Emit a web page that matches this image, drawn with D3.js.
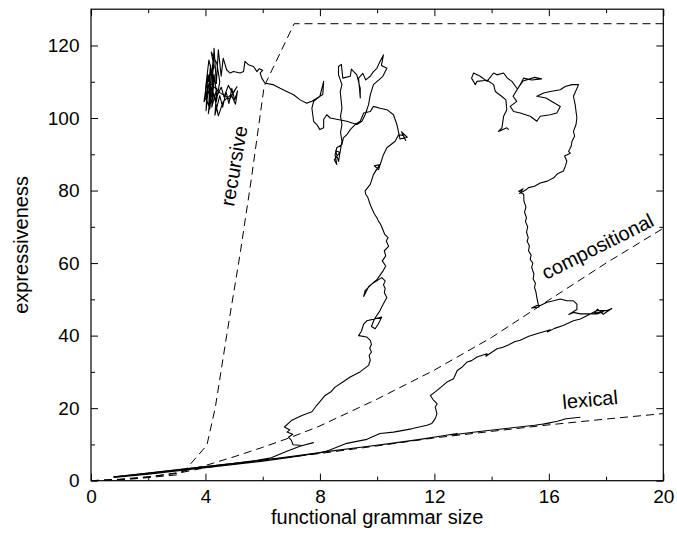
<!DOCTYPE html>
<html><head><meta charset="utf-8">
<script src="https://cdn.jsdelivr.net/npm/d3@7"></script>
<style>body{margin:0;background:#fff}svg{display:block}</style>
</head><body><svg id="c" width="677" height="538"></svg>
<script>
const xTicks = [0,4,8,12,16,20];
const xMinor = [2,6,10,14,18];
const yTicks = [0,20,40,60,80,100,120];
const yMinor = [10,30,50,70,90,110];
const xTitle = "functional grammar size";
const yTitle = "expressiveness";

const lexicalCurve = [[0,0],[1,0.4],[2,1.1],[3,2.0],[4,3.6],[6,5.6],[8,7.5],[10,9.6],[12,11.8],[14,13.6],[16,15.4],[18,17.0],[20,18.5]];
const compositionalCurve = [[0,0],[1,0.3],[2,1.0],[3,2.2],[4,4.2],[5,6.6],[6,9.2],[7,12.0],[8,15.1],[10,22.5],[12,30.5],[14,39.5],[16,49.8],[18,60.0],[20,69.6]];
const recursiveCurve = [[0,0],[1.5,0.5],[3.0,1.6],[3.3,3.0],[4.05,9.8],[4.34,20],[4.74,40],[5.2,62],[5.6,83],[6.05,108.7],[7.1,126],[20,126]];

const runLexical = [[0.77,1.0],[1.5,1.6],[2.5,2.5],[3.5,3.4],[4.5,4.3],[5.5,5.2],[6.5,6.2],[7.5,7.2],[8.5,8.3],[9.5,9.3],[10.5,10.3],[11.5,11.4],[12.3,12.4],[12.8,13.0],[12.6,12.6],[13.5,13.5],[14.5,14.4],[15.5,15.3],[16.05,15.9],[15.8,15.6],[16.3,16.4],[16.6,17.1],[17.1,17.5]];

const runRecursive = [[0.8,1.1],[2,2.1],[3,3.0],[4,3.9],[5,4.8],[5.8,5.6],[6.3,6.3],[6.8,8.0],[7.3,9.5],[7.77,10.5],[7.4,9.7],[7.06,9.9],[7.0,11.2],[6.9,12.0],[7.05,12.8],[6.85,13.4],[6.95,14.0],[6.76,14.8],[7.02,16.7],[7.37,18.0],[7.72,19.0],[7.85,20.4],[7.95,21.3],[8.18,23.5],[8.4,24.6],[8.53,25.8],[8.8,27.2],[9.06,28.6],[9.4,30.0],[9.70,31.8],[9.76,33.2],[9.72,34.5],[9.8,35.5],[9.74,36.5],[9.8,37.6],[9.76,38.7],[9.64,39.6],[9.35,40.0],[9.45,41.2],[9.53,43.2],[9.64,44.1],[10.16,45.1],[10.04,43.2],[9.93,41.9],[9.8,42.5],[9.9,44.5],[10.1,46.9],[10.2,48.5],[10.34,50.5],[10.25,51.8],[10.28,53],[10.22,54],[10.28,55.1],[10.16,56.0],[9.81,54.2],[9.58,52.4],[9.53,50.8],[9.7,53.5],[10.0,55.5],[10.22,58],[10.3,59.2],[10.18,60.6],[10.3,62],[10.25,63.4],[10.4,64.6],[10.32,66.1],[10.38,67],[10.26,68.0],[10.2,69.2],[10.12,70.7],[10.05,71.5],[9.99,72.5],[9.9,73.6],[9.8,75.3],[9.74,76.5],[9.68,78.0],[9.6,79.0],[9.58,79.9],[9.76,81.7],[9.87,84.4],[10.03,86.4],[9.95,85.5],[10.1,87.2],[9.9,86.8],[10.05,85.8],[10.22,89.9],[10.34,91.8],[10.63,93.6],[10.75,95.4],[10.91,95.2],[11.0,93.8],[10.85,96.2],[11.05,94.7],[10.8,94.2],[10.69,98.2],[10.57,100.9],[10.34,102.3],[10.1,102.7],[9.87,103.2],[9.76,101.8],[9.53,101.4],[9.41,99.1],[9.23,98.2],[9.06,96.8],[8.94,95.4],[8.82,94.5],[8.77,92.7],[8.59,91.8],[8.53,89.9],[8.59,87.2],[8.5,88.5],[8.7,90.5],[8.55,91],[8.65,88],[8.77,93.6],[8.72,96],[8.77,98.2],[8.72,100.5],[8.77,102.7],[8.71,107.3],[8.77,109.2],[8.65,111.9],[8.65,114.2],[8.75,114.8],[8.8,111],[9.06,111.5],[9.1,113.5],[9.29,111.9],[9.41,108.2],[9.41,105.5],[9.35,111],[9.5,112.3],[9.6,110.5],[9.76,111.5],[9.87,112.8],[9.99,113.7],[10.1,115.6],[10.22,117.4],[10.15,114.5],[10.34,113.7],[10.2,111.5],[9.87,109.2],[9.76,106.4],[9.7,103.7],[9.58,100.9],[9.47,99.1],[9.29,98.2],[8.94,99.1],[8.36,100.0],[8.24,100.9],[8.13,99.6],[8.13,97.3],[8.0,96.8],[7.89,98.2],[7.78,99.1],[7.72,102.7],[7.78,104.6],[8.0,106.0],[8.07,108.2],[8.13,110.1],[8.1,106.5],[7.72,104.6],[7.54,104.1],[7.31,105.0],[7.08,106.4],[6.84,107.3],[6.61,108.2],[6.37,109.2],[6.08,109.6],[5.97,111.0],[5.91,112.4],[6.0,113.2],[5.88,113.6],[5.80,112.8],[5.68,114.2],[5.50,114.7],[5.38,115.6],[5.33,112.8],[5.21,112.4],[4.98,112.8],[4.86,112.4],[4.74,113.3],[4.62,116.5],[4.55,111.5],[4.45,118.8],[4.38,109.5],[4.3,119.2],[4.22,106],[4.28,117],[4.12,104],[4.18,114.5],[4.02,102],[4.08,112],[3.95,104.5],[4.2,108.5],[4.1,101.2],[4.3,110.5],[4.22,103],[4.4,108.2],[4.33,100.8],[4.5,106.2],[4.6,103],[4.72,107.2],[4.82,104],[4.92,108.2],[5.02,105],[5.12,107.5],[5.05,103.8],[4.9,106.5],[4.62,104.5],[4.45,100.6],[4.3,106.5],[4.18,104],[4.14,111],[4.3,114],[4.2,118.2],[4.4,115],[4.5,110],[4.38,104.5],[4.25,107.5],[4.1,109],[4.0,106],[4.15,102.5],[4.3,112],[4.4,106],[4.55,108.5],[4.65,105.8],[4.8,109],[4.95,106.8],[5.1,108.6],[4.85,105.2],[4.5,107],[4.05,110.5],[4.2,113],[4.0,108],[4.12,116],[4.25,111.5]];

const runCompositional = [[0.8,0.9],[2,1.8],[3,2.7],[4,3.6],[5,4.5],[6,5.4],[7,6.5],[8,7.7],[8.3,8.3],[8.94,10.3],[9.64,11.4],[10.1,13.0],[10.57,13.4],[11.2,14.3],[11.74,15.3],[11.91,15.8],[12.03,17.1],[12.09,18.5],[12.03,20.3],[12.1,21.2],[11.97,22.2],[11.86,23.5],[12.03,24.5],[12.2,25.6],[12.44,27.2],[12.67,28.1],[12.8,30.4],[12.95,31.2],[13.14,32.7],[13.3,33.1],[13.49,34.1],[13.84,35.0],[13.8,34.3],[14.19,36.4],[14.4,36.8],[14.6,37.5],[14.8,38.3],[15.0,38.7],[15.3,39.8],[15.58,40.5],[16.05,41.6],[15.95,41.0],[16.2,42.0],[16.5,42.8],[16.86,44.1],[17.1,44.6],[17.33,45.5],[17.68,46.9],[18.03,46.9],[18.2,47.5],[17.9,45.9],[17.7,47.3],[17.6,46.2],[17.9,46.6],[17.68,46.0],[17.1,46.0],[16.86,46.4],[16.7,45.8],[16.98,47.2],[16.98,48.7],[16.86,49.6],[16.63,49.6],[16.4,50.1],[16.17,49.6],[15.94,49.2],[15.70,48.3],[15.58,48.3],[15.4,47.6],[15.65,47.9],[15.58,50.5],[15.55,52],[15.5,53.3],[15.53,54.5],[15.45,55.6],[15.48,57],[15.4,58.8],[15.44,60],[15.35,61],[15.38,62.2],[15.29,63.4],[15.32,64.8],[15.24,66],[15.28,67],[15.22,68.5],[15.26,70],[15.18,71.5],[15.22,72.5],[15.15,74],[15.2,75.5],[15.13,77.1],[15.12,79.0],[14.95,79.8],[15.1,80.5],[14.98,79.2],[15.2,80.2],[15.29,80.8],[15.5,81.2],[15.70,82.1],[15.95,82.6],[16.17,83.5],[16.3,84.6],[16.51,85.4],[16.58,86.8],[16.63,88.1],[16.55,89.5],[16.75,90.3],[16.69,90.8],[16.78,92.2],[16.81,93.6],[16.9,95],[16.86,96.3],[16.95,98.2],[16.98,100.0],[16.92,103.7],[16.86,106],[17.04,109.2],[16.81,109.2],[16.57,108.7],[16.40,107.8],[16.05,107.3],[15.82,106.9],[15.58,106.0],[15.9,105.5],[16.4,103.2],[16.28,101.4],[16.05,100.9],[15.70,100.5],[15.58,99.1],[15.35,100.5],[15.0,101.4],[14.77,101.8],[14.65,103.2],[14.88,104.6],[14.75,106],[15.0,109.2],[15.12,111.0],[15.4,110.5],[15.75,110.8],[15.5,111.2],[15.1,110.2],[14.9,108],[14.71,110.1],[14.55,111],[14.42,112.4],[14.19,111.9],[14.07,112.4],[13.84,110.1],[13.6,111.5],[13.37,112.4],[13.3,111],[13.43,109.2],[13.49,110.1],[13.84,110.4],[14.07,109.2],[14.13,107.3],[14.35,106],[14.5,105],[14.53,102.3],[14.42,100.5],[14.36,97.3],[14.24,96.3],[14.53,97.3],[14.6,96.8]];

const svg = d3.select("#c");
svg.append("rect").attr("width",677).attr("height",538).attr("fill","#fff");
const x = d3.scaleLinear().domain([0,20]).range([91,663.3]);
const y = d3.scaleLinear().domain([0,130]).range([480.7,9.2]);
const FONT = "'Liberation Sans', Arial, Helvetica, sans-serif";

function styleAxis(g){ g.select(".domain").remove(); g.selectAll("line").attr("stroke","#000").attr("stroke-width",1); g.selectAll("text").attr("font-family",FONT).attr("font-size",19).attr("fill","#000"); }

svg.append("g").attr("transform",`translate(0,${y(0)})`).call(d3.axisBottom(x).tickValues(xTicks).tickSize(-7).tickPadding(9.3)).call(styleAxis);
svg.append("g").attr("transform",`translate(0,${y(0)})`).call(d3.axisBottom(x).tickValues(xMinor).tickSize(-4).tickFormat("")).call(styleAxis);
svg.append("g").attr("transform",`translate(0,${y(130)})`).call(d3.axisTop(x).tickValues(xTicks).tickSize(-7).tickFormat("")).call(styleAxis);
svg.append("g").attr("transform",`translate(0,${y(130)})`).call(d3.axisTop(x).tickValues(xMinor).tickSize(-4).tickFormat("")).call(styleAxis);
svg.append("g").attr("transform",`translate(${x(0)},0)`).call(d3.axisLeft(y).tickValues(yTicks).tickSize(-7).tickPadding(11.5)).call(styleAxis);
svg.append("g").attr("transform",`translate(${x(0)},0)`).call(d3.axisLeft(y).tickValues(yMinor).tickSize(-4).tickFormat("")).call(styleAxis);
svg.append("g").attr("transform",`translate(${x(20)},0)`).call(d3.axisRight(y).tickValues(yTicks).tickSize(-7).tickFormat("")).call(styleAxis);
svg.append("g").attr("transform",`translate(${x(20)},0)`).call(d3.axisRight(y).tickValues(yMinor).tickSize(-4).tickFormat("")).call(styleAxis);

svg.append("rect").attr("x",x(0)).attr("y",y(130)).attr("width",x(20)-x(0)).attr("height",y(0)-y(130))
  .attr("fill","none").attr("stroke","#000").attr("stroke-width",1.2);

svg.append("clipPath").attr("id","pc").append("rect").attr("x",x(0)).attr("y",y(130)).attr("width",x(20)-x(0)).attr("height",y(0)-y(130));
const line = d3.line().x(d=>x(d[0])).y(d=>y(d[1]));
const plot = svg.append("g").attr("clip-path","url(#pc)");

[lexicalCurve, compositionalCurve, recursiveCurve].forEach(c=>{
  plot.append("path").attr("d",line(c)).attr("fill","none").attr("stroke","#000").attr("stroke-width",1).attr("stroke-dasharray","8,5");
});
[runLexical, runRecursive, runCompositional].forEach(c=>{
  plot.append("path").attr("d",line(c)).attr("fill","none").attr("stroke","#000").attr("stroke-width",1.1).attr("stroke-linejoin","round");
});

function label(txt, px, py, rot){
  svg.append("text").attr("transform",`translate(${px},${py}) rotate(${rot})`).attr("font-family",FONT).attr("font-size",20).attr("fill","#000").text(txt);
}
label("recursive", 234, 207, -80.4);
label("compositional", 546, 280, -26.6);
label("lexical", 563, 409, -5.2);

svg.append("text").attr("x",(x(0)+x(20))/2).attr("y",523.5).attr("text-anchor","middle").attr("font-family",FONT).attr("font-size",20).text(xTitle);
svg.append("text").attr("transform",`translate(28,${(y(0)+y(130))/2}) rotate(-90)`).attr("text-anchor","middle").attr("font-family",FONT).attr("font-size",20).text(yTitle);
</script></body></html>
